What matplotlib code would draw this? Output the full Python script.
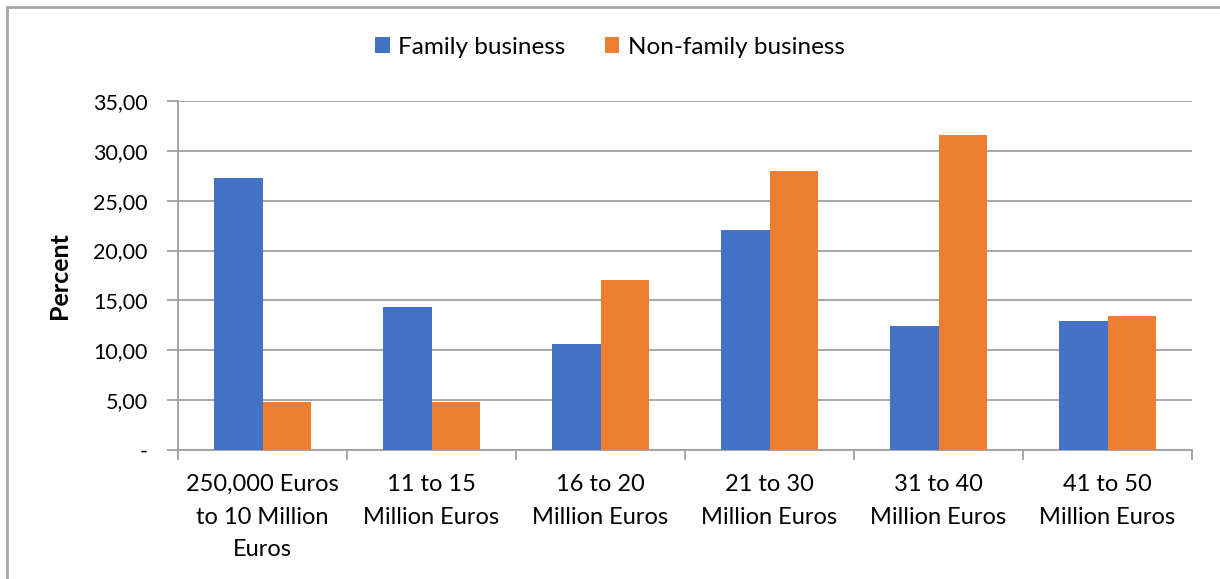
import numpy as np
import matplotlib
matplotlib.use("Agg")
import matplotlib.pyplot as plt
from matplotlib.patches import Rectangle
from matplotlib.ticker import FuncFormatter

plt.rcParams['font.family'] = ['Lato', 'DejaVu Sans']

categories = ['250,000 Euros\nto 10 Million\nEuros', '11 to 15\nMillion Euros',
              '16 to 20\nMillion Euros', '21 to 30\nMillion Euros',
              '31 to 40\nMillion Euros', '41 to 50\nMillion Euros']
family = [27.3, 14.3, 10.6, 22.1, 12.4, 12.9]
non_family = [4.8, 4.8, 17.0, 28.0, 31.6, 13.4]
series_names = ['Family business', 'Non-family business']

blue = '#4472c4'
orange = '#ed7d31'
grid_c = '#a0a0a0'

fig = plt.figure(figsize=(12.2, 5.79), dpi=100)
# outer chart frame
fig.patches.append(Rectangle((7 / 1220, -0.1), 1.2, 1 - 7 / 579 + 0.1,
                             transform=fig.transFigure, fill=False,
                             edgecolor='#a6a6a6', linewidth=2, clip_on=False))

ax = fig.add_axes([178 / 1220, 1 - 450 / 579, (1192 - 178) / 1220, (450 - 101) / 579])

x = np.arange(len(categories))
w = 0.285
ax.bar(x - w / 2, family, w, color=blue, label=series_names[0], zorder=3)
ax.bar(x + w / 2, non_family, w, color=orange, label=series_names[1], zorder=3)

ax.set_xlim(-0.5, len(categories) - 0.5)
ax.set_ylim(0, 35)
ax.set_yticks(np.arange(0, 36, 5))
ax.yaxis.set_major_formatter(FuncFormatter(
    lambda v, p: '-' if v == 0 else f'{v:.2f}'.replace('.', ',')))
ax.yaxis.grid(True, color=grid_c, linewidth=1.3, zorder=0)

ax.set_xticks(x)
ax.set_xticklabels(categories, fontsize=17, linespacing=1.7)
ax.set_xticks(np.arange(-0.5, len(categories)), minor=True)
ax.tick_params(axis='x', which='major', length=0, pad=17)
ax.tick_params(axis='x', which='minor', length=7, color=grid_c, width=1.3)
ax.tick_params(axis='y', length=8, color=grid_c, width=1.3, labelsize=15.5, pad=14)

for side in ['top', 'right']:
    ax.spines[side].set_visible(False)
for side in ['left', 'bottom']:
    ax.spines[side].set_color(grid_c)
    ax.spines[side].set_linewidth(1.3)

ax.set_ylabel('Percent', fontsize=18, fontweight='bold', labelpad=16)

fig.legend(loc='center', bbox_to_anchor=(0.5, 1 - 47 / 579), ncol=2, frameon=False,
           fontsize=17.5, handlelength=0.6, handleheight=0.6, handletextpad=0.35,
           columnspacing=1.6)

fig.savefig('out.png', dpi=100)
